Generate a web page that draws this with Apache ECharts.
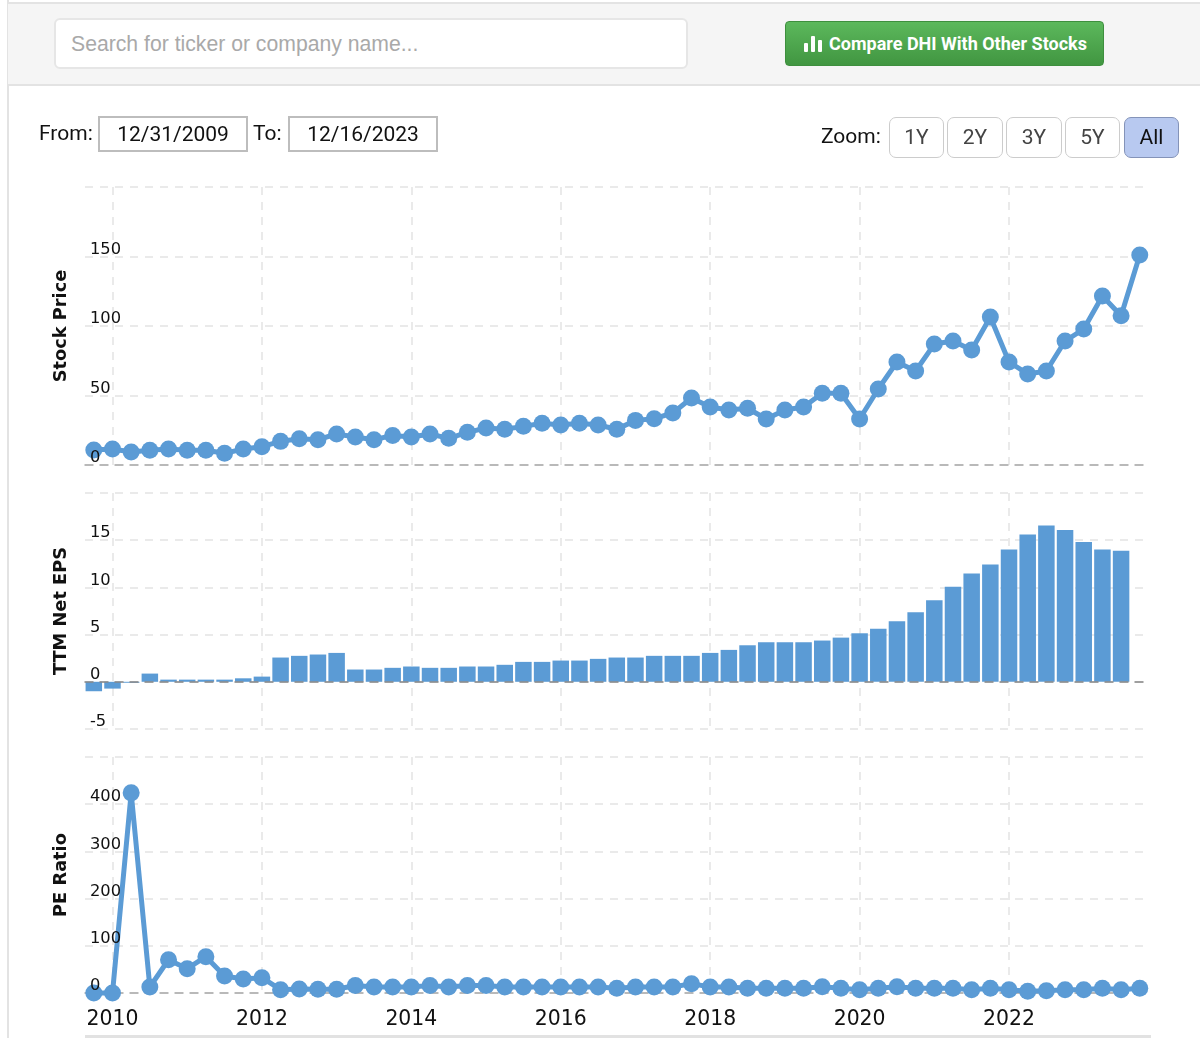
<!DOCTYPE html>
<html><head><meta charset="utf-8">
<script src="https://cdn.jsdelivr.net/npm/echarts@6/dist/echarts.min.js"></script>
<style>
html,body{margin:0;padding:0;background:#fff;width:1200px;height:1038px;overflow:hidden}
#wrap{position:relative;width:1200px;height:1038px;overflow:hidden}
#chart{position:absolute;left:0;top:0;width:1200px;height:1038px}
.abs{position:absolute;box-sizing:border-box}
#bar{left:8px;top:2px;width:1192px;height:84px;background:#f5f5f5;border-top:2px solid #e3e3e3;border-bottom:2px solid #e3e3e3}
#leftb{left:7px;top:0;width:2px;height:1038px;background:#e3e3e3}
#search{left:54px;top:18px;width:634px;height:51px;background:#fff;border:2px solid #e6e6e6;border-radius:6px;font:21.2px "Liberation Sans";color:#a9a9a9;line-height:47px;padding-left:15px}
#btn{left:785px;top:21px;width:319px;height:45px;border-radius:4px;background:linear-gradient(#5cb85c,#419641);border:1px solid #3e8f3e;color:#fff;font:bold 18px Roboto;line-height:43px;padding-left:43px;white-space:nowrap}
.ic{position:absolute;background:#fff;width:4px;border-radius:1px}
.lab{font:20px Roboto;color:#111;white-space:nowrap}
.date{font:21px Roboto;color:#111;border:2px solid #bdbdbd;background:#fff;text-align:center;top:116px;height:36px;line-height:32px}
.z{top:117px;height:41px;border:1.5px solid #ccc;border-radius:7px;font:21px Roboto;color:#444;text-align:center;line-height:38px;background:#fff}
.z.on{background:#b8c9f0;border-color:#8493b8;color:#111}
#foot{left:85px;top:1035px;width:1066px;height:3px;background:#e2e2e2}
</style></head><body><div id="wrap">
<div id="chart" class="abs"></div>
<div id="leftb" class="abs"></div>
<div id="bar" class="abs"></div>
<div id="search" class="abs">Search for ticker or company name...</div>
<div id="btn" class="abs"><span class="ic" style="left:18px;top:21px;height:9px"></span><span class="ic" style="left:25px;top:14px;height:16px"></span><span class="ic" style="left:32px;top:18px;height:12px"></span>Compare DHI With Other Stocks</div>
<div class="abs lab" style="left:39px;top:121px;font-size:21px">From:</div>
<div class="abs date" style="left:98px;width:150px">12/31/2009</div>
<div class="abs lab" style="left:253px;top:121px;font-size:21px">To:</div>
<div class="abs date" style="left:288px;width:150px">12/16/2023</div>
<div class="abs lab" style="left:821px;top:124px;font-size:21px">Zoom:</div>
<div class="abs z" style="left:889px;width:55px">1Y</div>
<div class="abs z" style="left:947px;width:56px">2Y</div>
<div class="abs z" style="left:1006px;width:56px">3Y</div>
<div class="abs z" style="left:1065px;width:55px">5Y</div>
<div class="abs z on" style="left:1124px;width:55px">All</div>
<div id="foot" class="abs"></div>
</div>
<script>
const quarters = [2009.75,2010,2010.25,2010.5,2010.75,2011,2011.25,2011.5,2011.75,2012,
2012.25,2012.5,2012.75,2013,2013.25,2013.5,2013.75,2014,2014.25,2014.5,
2014.75,2015,2015.25,2015.5,2015.75,2016,2016.25,2016.5,2016.75,2017,
2017.25,2017.5,2017.75,2018,2018.25,2018.5,2018.75,2019,2019.25,2019.5,
2019.75,2020,2020.25,2020.5,2020.75,2021,2021.25,2021.5,2021.75,2022,
2022.25,2022.5,2022.75,2023,2023.25,2023.5,2023.75];
const price = [10.8,11.5,9.4,10.6,11.5,10.6,10.6,8.4,11.5,13.2,17,18.9,18.2,22.3,20.1,18.2,21.3,20.1,22.3,
19.2,23.5,26.6,25.7,27.8,30,28.8,30,28.8,25.7,32.1,33.3,37.4,48.2,41.7,39.6,40.8,33.1,39.6,
41.7,51.6,51.6,33.1,54.7,74.1,67.6,87,89.2,82.7,106.5,74.1,65.5,67.6,89.2,97.8,121.6,107.4,151];
const eps = [-1,-0.72,-0.1,0.87,0.23,0.23,0.23,0.23,0.37,0.55,2.57,2.75,2.89,3.06,1.3,1.3,1.48,1.62,1.48,1.48,1.62,1.62,1.8,2.11,2.11,2.25,2.25,2.43,2.57,2.57,2.75,2.75,2.75,3.06,3.38,3.87,4.19,4.19,4.19,4.37,4.68,5.14,5.63,6.41,7.36,8.63,10.07,11.48,12.43,14.01,15.6,16.55,16.09,14.82,14.01,13.87,null];
const pe = [0,0,424,12.7,70.5,51.5,77,36,29.6,32.5,7,8.5,7.8,7.8,16,12.7,12.7,12.7,16,12.7,16,16,12.7,12.7,12.7,12.7,12.7,12.7,10,12.7,12.7,12.7,19.8,12.7,12.7,10,10,10,10,13.4,10,7,10,13.4,10,10,10,7,10,7,3.5,5,7,7,10,7,10];
const yearTicks = [2010,2012,2014,2016,2018,2020,2022];
const axisStart = 2009.632, axisEnd = 2023.82;
const yNames = ['Stock Price','TTM Net EPS','PE Ratio'];

const COLOR = '#5b9bd5', GRID = '#e4e4e4', FONT = '"DejaVu Sans"';
const dash = {color:GRID,width:1.5,type:[8,7]};
const grids = [{left:85,right:55,top:187,height:278},{left:85,right:55,top:493,height:236},{left:85,right:55,top:757,height:236}];
const yCfg = [{min:0,max:200,interval:50},{min:-5,max:20,interval:5},{min:0,max:500,interval:100}];
const pair = (v)=>quarters.map((d,i)=>[d,v[i]]);
const xMain = [0,1,2].map(i=>({
  type:'value',gridIndex:i,min:axisStart,max:axisEnd,
  axisLine:{show:i!==1,onZero:true,lineStyle:{color:'#aaa',width:1.5,type:[8,7]}},
  axisTick:{show:false,customValues:yearTicks},
  splitLine:{show:true,lineStyle:dash},
  axisLabel:{show:i===2,customValues:yearTicks,margin:17,fontFamily:FONT,fontSize:20.4,color:'#111',hideOverlap:false,
    formatter:v=>String(v)}
}));
// zero line of the bar panel, drawn above the bars
const xZero = {type:'value',gridIndex:1,min:axisStart,max:axisEnd,z:3,
  axisLine:{show:true,onZero:true,lineStyle:{color:'#888',width:1.5,type:[8,7]}},
  axisTick:{show:false},splitLine:{show:false},axisLabel:{show:false}};
const yMain = [0,1,2].map(i=>({
  type:'value',gridIndex:i,position:'left',min:yCfg[i].min,max:yCfg[i].max,interval:yCfg[i].interval,
  name:yNames[i],nameLocation:'middle',nameGap:15,nameRotate:90,
  nameTextStyle:{fontFamily:FONT,fontWeight:'bold',fontSize:17.8,color:'#111'},
  axisLine:{show:false},axisTick:{show:false},
  splitLine:{show:true,lineStyle:dash},
  axisLabel:{show:false}
}));
// tick labels only, drawn above the marks as in the reference
const yLabels = [0,1,2].map(i=>({
  type:'value',gridIndex:i,position:'left',min:yCfg[i].min,max:yCfg[i].max,interval:yCfg[i].interval,z:5,
  axisLine:{show:false},axisTick:{show:false},splitLine:{show:false},
  axisLabel:{inside:true,margin:5,align:'left',verticalAlign:'bottom',lineHeight:14,fontFamily:FONT,fontSize:16.3,color:'#111',
    formatter:v=>v===yCfg[i].max?'':String(v)}
}));
const chart = echarts.init(document.getElementById('chart'),null,{renderer:'canvas'});
chart.setOption({
  animation:false,
  grid:grids,
  xAxis:[...xMain,xZero],
  yAxis:[...yMain,...yLabels],
  series:[
    {type:'line',xAxisIndex:0,yAxisIndex:0,data:pair(price),clip:false,symbol:'circle',symbolSize:17,showSymbol:true,showAllSymbol:true,
      lineStyle:{color:COLOR,width:5},itemStyle:{color:COLOR}},
    {type:'bar',xAxisIndex:1,yAxisIndex:1,data:pair(eps),barWidth:16.5,itemStyle:{color:COLOR},clip:false},
    {type:'line',xAxisIndex:2,yAxisIndex:2,data:pair(pe),clip:false,symbol:'circle',symbolSize:17,showSymbol:true,showAllSymbol:true,
      lineStyle:{color:COLOR,width:5},itemStyle:{color:COLOR}}
  ]
});
</script></body></html>
